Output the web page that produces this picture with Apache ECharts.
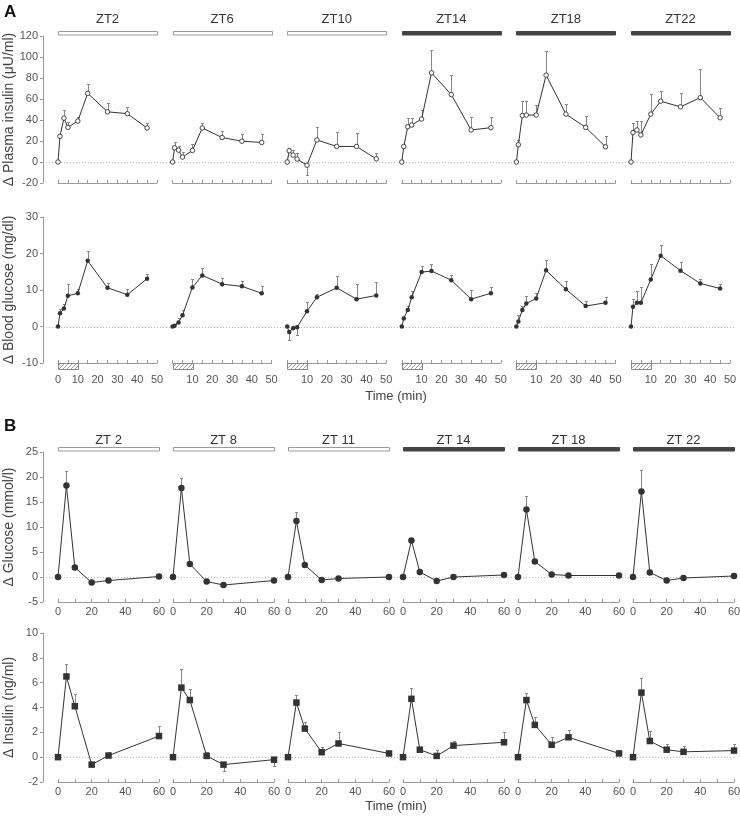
<!DOCTYPE html>
<html><head><meta charset="utf-8">
<script src="https://cdn.jsdelivr.net/npm/echarts@6/dist/echarts.min.js"></script>
<style>html,body{margin:0;padding:0;background:#fff}#c{width:740px;height:819px}</style>
</head><body><div id="c"></div>
<script>
// ---------- data ----------
const titlesA = ['ZT2','ZT6','ZT10','ZT14','ZT18','ZT22'];
const titlesB = ['ZT 2','ZT 8','ZT 11','ZT 14','ZT 18','ZT 22'];
const darkPeriod = [false,false,false,true,true,true];
const timeA = [0,1,3,5,10,15,25,35,45];
const timeB = [0,5,10,20,30,60];

const insulinA = [
  [0,24.5,41.8,33,39,65.4,47.8,46,32.4],
  [0,13.5,11.3,4.7,11,32.4,23.3,19.8,18.6],
  [0,10.7,6.6,2.8,-3.1,21,14.8,14.8,3],
  [0,14.8,33.6,35.2,40.9,84.9,64.2,30.5,32.7],
  [0,16.4,44.3,44.7,44.7,82.7,45.6,33,14.5],
  [0,28,30.5,25.8,45.6,57.9,52.5,61.3,42.1]
];
const insulinA_err = [
  [0,0,8.2,5,4,9.1,8.8,6.8,4.4],
  [0,5.1,4.1,4.7,6.3,5,6.3,6.9,7.8],
  [0,3.1,5,5.4,-9,12.6,13.8,12.6,5.5],
  [0,0,7.9,6.8,8.5,21.7,19.1,12,10.4],
  [0,4.6,13.7,13.3,9.7,23.3,9.4,10.4,10.3],
  [0,8.8,8.8,12.9,19.4,9.7,12.9,27.4,9.8]
];
const glucoseA = [
  [0,3.6,4.9,8.4,9.1,18,10.6,8.7,13.1],
  [0,0.2,1.1,3.1,10.7,14,11.6,11,9.1],
  [0,-1.5,-0.5,-0.2,4.2,8,10.6,7.5,8.5],
  [0,2.2,4.5,8,14.9,15.2,12.7,7.5,9.1],
  [0,1.4,4.5,6.3,7.7,15.4,10.2,5.6,6.5],
  [0,5.4,6.5,6.5,12.9,19.4,15.3,11.8,10.4]
];
const glucoseA_err = [
  [0,1.3,1.4,3.2,1.2,2.8,1.4,1.6,1.4],
  [0,0.4,1.1,1.4,2.3,1.9,1.8,1.6,2],
  [0,-2.3,0.6,-2.1,2.6,0.9,3.2,4.1,3.6],
  [0,0,1.2,1.8,1.7,2,1.4,2.4,1.6],
  [0,1.8,1.2,2.1,1.5,2.9,2.4,1.3,1.6],
  [0,2,3.1,4.4,4.3,2.8,2.5,1.3,1.3]
];
const glucoseB = [
  [0,18.3,1.9,-1.1,-0.7,0.1],
  [0,17.8,2.6,-0.9,-1.6,-0.7],
  [0,11.2,2.4,-0.6,-0.3,0],
  [0,7.3,1.0,-0.8,0,0.4],
  [0,13.5,3.1,0.5,0.3,0.3],
  [0,17.1,0.9,-0.7,-0.2,0.2]
];
const glucoseB_err = [
  [0,2.9,0,0,0,0],
  [0,2.1,0,0,0,0],
  [0,1.9,0,0,0.4,0],
  [0,0.6,0,0,0,0],
  [0,2.8,0,0,0,0],
  [0,4.4,0,0,0.3,0]
];
const insulinB = [
  [0,6.5,4.1,-0.6,0.13,1.7],
  [0,5.6,4.6,0.1,-0.6,-0.2],
  [0,4.4,2.3,0.4,1.1,0.3],
  [0,4.7,0.6,0.1,0.93,1.2],
  [0,4.6,2.6,1.0,1.6,0.3],
  [0,5.2,1.3,0.6,0.43,0.53]
];
const insulinB_err = [
  [0,1.0,1.0,0,0.27,0.8],
  [0,1.5,0.9,0.35,-0.55,-0.5],
  [0,0.6,0.5,0.45,0.9,0.23],
  [0,0.9,0,0.5,0.37,0.8],
  [0,0.6,0.6,0.6,0.6,0.26],
  [0,1.2,0.8,0.5,0.47,0.5]
];

// ---------- layout ----------
const FONT = 'Liberation Sans, Arial, Helvetica, sans-serif';
const rows = [
  {data:insulinA, err:insulinA_err, t:timeA, ymin:-20, ymax:120, yint:20, yname:'Δ Plasma insulin (μU/ml)',
   top:36, height:147, left:58, step:114.6, width:99, xmax:50, xint:5, labelEvery:0, lm:6, sym:'circle', size:4.5, open:true},
  {data:glucoseA, err:glucoseA_err, t:timeA, ymin:-10, ymax:30, yint:10, yname:'Δ Blood glucose (mg/dl)',
   top:217, height:146, left:58, step:114.6, width:99, xmax:50, xint:5, labelEvery:10, lm:11, hideZero:true, sym:'circle', size:4.5},
  {data:glucoseB, err:glucoseB_err, t:timeB, ymin:-5, ymax:25, yint:5, yname:'Δ Glucose (mmol/l)',
   top:452, height:150, left:58, step:115, width:101, xmax:60, xint:10, labelEvery:20, lm:4, sym:'circle', size:6.5},
  {data:insulinB, err:insulinB_err, t:timeB, ymin:-2, ymax:10, yint:2, yname:'Δ Insulin (ng/ml)',
   top:633, height:149, left:58, step:115, width:101, xmax:60, xint:10, labelEvery:20, lm:4, sym:'rect', size:6.5}
];

function renderErr(params, api){
  const x=api.value(0), y=api.value(1), e=api.value(2);
  if(!e) return {type:'group', children:[]};
  const p1=api.coord([x,y]), p2=api.coord([x,y+e]);
  const xx=Math.round(p1[0])+0.5, yy=Math.round(p2[1])+0.5;
  return {type:'group', children:[
    {type:'line', shape:{x1:xx,y1:p1[1],x2:xx,y2:yy}, style:{stroke:'#888', lineWidth:1}},
    {type:'line', shape:{x1:xx-1.5,y1:yy,x2:xx+1.5,y2:yy}, style:{stroke:'#888', lineWidth:1}}
  ]};
}

const grid=[], xAxis=[], yAxis=[], series=[];
rows.forEach((r,ri)=>{
  for(let c=0;c<6;c++){
    const gi=ri*6+c;
    grid.push({left:r.left+c*r.step, top:r.top, width:r.width, height:r.height, containLabel:false, outerBoundsMode:'none'});
    xAxis.push({type:'value', gridIndex:gi, min:0, max:r.xmax, interval:r.xint, position:'bottom',
      axisLine:{show:true, onZero:false, lineStyle:{color:'#999', width:1}},
      axisTick:{show:true, inside:true, length:3, lineStyle:{color:'#999'}},
      splitLine:{show:false},
      axisLabel:{show:r.labelEvery>0, color:'#555', fontSize:11, fontFamily:FONT, margin:r.lm,
        showMinLabel:true, showMaxLabel:true, hideOverlap:false,
        formatter:(v)=>{ if(!r.labelEvery) return ''; if(v%r.labelEvery!==0) return ''; if(r.hideZero && c>0 && v===0) return ''; return String(v);} }
    });
    yAxis.push({type:'value', gridIndex:gi, min:r.ymin, max:r.ymax, interval:r.yint, show:c===0, offset:15, position:'left',
      axisLine:{show:true, onZero:false, lineStyle:{color:'#999'}},
      axisTick:{show:true, inside:false, length:3, lineStyle:{color:'#999'}},
      splitLine:{show:false},
      axisLabel:{color:'#555', fontSize:11, fontFamily:FONT, margin:5},
      name:r.yname, nameLocation:'middle', nameGap:27, nameRotate:90,
      nameTextStyle:{color:'#444', fontSize:14, fontFamily:FONT}
    });
    const vals=r.data[c], errs=r.err[c];
    series.push({type:'custom', xAxisIndex:gi, yAxisIndex:gi, renderItem:renderErr, z:1, clip:false, silent:true,
      encode:{x:0,y:1}, data:r.t.map((x,i)=>[x, vals[i], errs[i]])});
    series.push({type:'line', xAxisIndex:gi, yAxisIndex:gi, z:3, animation:false, silent:true,
      data:r.t.map((x,i)=>[x, vals[i]]), symbol:r.sym, symbolSize:r.size, showSymbol:true,
      lineStyle:{color:'#333', width:1},
      itemStyle: r.open ? {color:'#fff', borderColor:'#333', borderWidth:0.9} : {color:'#333', borderWidth:0}
    });
  }
});

const chart=echarts.init(document.getElementById('c'), null, {renderer:'canvas'});
chart.setOption({animation:false, backgroundColor:'#fff', grid, xAxis, yAxis, series});

// ---------- decorations ----------
const pc=document.createElement('canvas'); pc.width=4; pc.height=4;
const ctx=pc.getContext('2d'); ctx.strokeStyle='#888'; ctx.lineWidth=0.8;
ctx.beginPath(); ctx.moveTo(0,4); ctx.lineTo(4,0); ctx.moveTo(-1,1); ctx.lineTo(1,-1); ctx.moveTo(3,5); ctx.lineTo(5,3); ctx.stroke();

const g=[];
rows.forEach((r,ri)=>{
  const y0=chart.convertToPixel({gridIndex:ri*6},[0,0])[1];
  g.push({type:'line', z:0, shape:{x1:43,y1:Math.round(y0)+0.5,x2:735,y2:Math.round(y0)+0.5},
    style:{stroke:'#bbb', lineWidth:1, lineDash:[1,2]}});
  for(let c=0;c<6;c++){
    const gi=ri*6+c;
    const pTop0=chart.convertToPixel({gridIndex:gi},[0,r.ymax]);
    const pTop1=chart.convertToPixel({gridIndex:gi},[r.xmax,r.ymax]);
    const pBot=chart.convertToPixel({gridIndex:gi},[0,r.ymin]);
    if(ri===0||ri===2){
      const titles = ri===0?titlesA:titlesB;
      g.push({type:'rect', z:5, shape:{x:Math.round(pTop0[0])+0.5, y:Math.round(pTop0[1])-4.5, width:Math.round(pTop1[0]-pTop0[0]), height:3.5},
        style: darkPeriod[c] ? {fill:'#444', stroke:'#444', lineWidth:1} : {fill:'#fff', stroke:'#999', lineWidth:1}});
      g.push({type:'text', z:5, x:(pTop0[0]+pTop1[0])/2, y:pTop0[1]-(ri===0?17:12),
        style:{text:titles[c], fill:'#333', font:'13px '+FONT, align:'center', verticalAlign:'middle'}});
    }
    if(ri===1){
      const p10=chart.convertToPixel({gridIndex:gi},[10,r.ymin]);
      g.push({type:'rect', z:5, shape:{x:Math.round(pBot[0])+0.5, y:Math.round(pBot[1])+0.5, width:Math.round(p10[0]-pBot[0]), height:6},
        style:{fill:{image:pc, repeat:'repeat'}, stroke:'#888', lineWidth:1}});
    }
  }
});
g.push({type:'text', z:5, x:4, y:4, style:{text:'A', fill:'#111', font:'bold 17px '+FONT}});
g.push({type:'text', z:5, x:4, y:418, style:{text:'B', fill:'#111', font:'bold 17px '+FONT}});
g.push({type:'text', z:5, x:396, y:396, style:{text:'Time (min)', fill:'#444', font:'13px '+FONT, align:'center', verticalAlign:'middle'}});
g.push({type:'text', z:5, x:396, y:806, style:{text:'Time (min)', fill:'#444', font:'13px '+FONT, align:'center', verticalAlign:'middle'}});
chart.setOption({graphic:{elements:g}});
</script></body></html>
